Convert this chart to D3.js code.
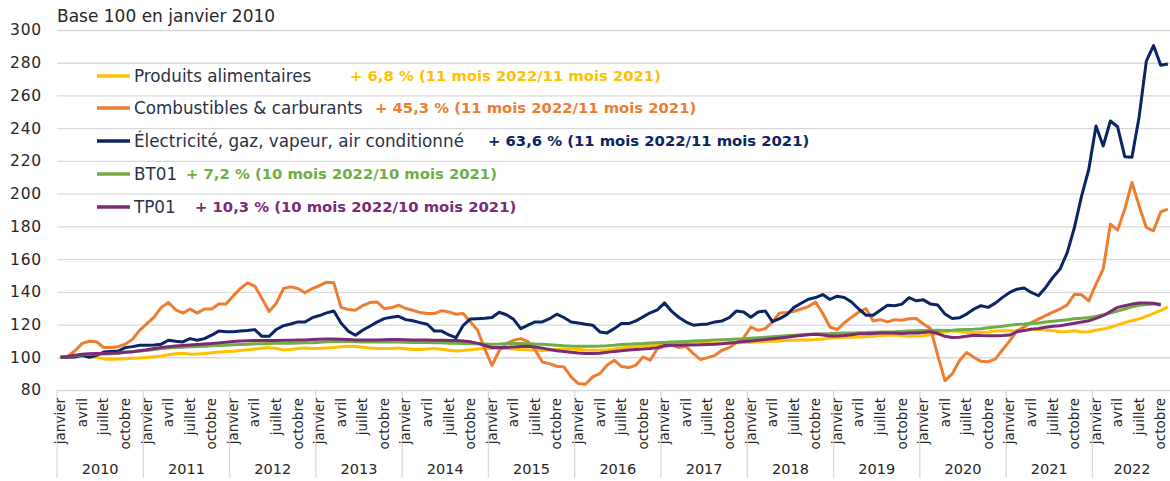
<!DOCTYPE html>
<html>
<head>
<meta charset="utf-8">
<script src="https://cdn.jsdelivr.net/npm/d3@7"></script>
<style>
	body { margin: 0; background: #fff; }
	svg { display: block; font-family: "DejaVu Sans", sans-serif; }
</style>
</head>
<body>
<svg id="chart" width="1170" height="481"></svg>
<script>
// Indices base 100 en janvier 2010, mensuel de janvier 2010 a novembre 2022
const years = ["2010", "2011", "2012", "2013", "2014", "2015", "2016", "2017", "2018", "2019", "2020", "2021", "2022"];
const monthLabels = ["janvier", "avril", "juillet", "octobre"];
const monthTickIdx = [0, 3, 6, 9];
const yTicks = [80, 100, 120, 140, 160, 180, 200, 220, 240, 260, 280, 300];

const seriesNames = [
	"Produits alimentaires",
	"Combustibles & carburants",
	"Électricité, gaz, vapeur, air conditionné",
	"BT01",
	"TP01",
];
const seriesPct = [
	"+ 6,8 % (11 mois 2022/11 mois 2021)",
	"+ 45,3 % (11 mois 2022/11 mois 2021)",
	"+ 63,6 % (11 mois 2022/11 mois 2021)",
	"+ 7,2 % (10 mois 2022/10 mois 2021)",
	"+ 10,3 % (10 mois 2022/10 mois 2021)",
];
const seriesColors = ["#ffc000", "#ed7d31", "#0b2463", "#70ad47", "#7b2a76"];

const food = [
	100, 100.2, 100.4, 100.6, 100.5, 100, 99, 98.8, 98.9, 99.1, 99.4, 99.6,
	99.8, 100.3, 100.8, 101.5, 102.2, 102.4, 101.9, 102, 102.3, 102.8, 103.2, 103.5,
	103.7, 104.1, 104.6, 105, 105.5, 105.9, 105.3, 104.5, 104.7, 105.3, 105.6, 105.4,
	105.3, 105.6, 105.9, 106.4, 106.8, 106.6, 106.1, 105.7, 105.4, 105.3, 105.4, 105.6,
	105.2, 104.8, 104.7, 105, 105.3, 104.9, 104.3, 103.9, 104.2, 104.6, 105.1, 105.3,
	105.4, 105.4, 105.3, 105.1, 104.8, 104.6, 104.4, 104.2, 104.4, 104.7, 105, 105,
	104.8, 104.5, 104.3, 104.3, 104.6, 105, 105.6, 106.2, 106.6, 107, 107.2, 107.4,
	107.6, 107.8, 108, 108.1, 108.3, 108.4, 108.4, 108.4, 108.5, 108.6, 108.8, 109,
	109.2, 109.4, 109.6, 109.8, 110, 110.2, 110.4, 110.5, 110.6, 110.8, 111.2, 111.6,
	112, 112.1, 112.3, 112.4, 112.6, 112.9, 113.3, 113.4, 113.6, 113.2, 112.8, 112.8,
	113.2, 113.8, 114.5, 115.5, 116.2, 115.8, 115.2, 115.2, 115.2, 115.5, 116, 116.2,
	116.2, 116.3, 116.5, 116.8, 117.1, 116.6, 116.2, 115.6, 115.8, 116.2, 115.5, 115.6,
	116.5, 117.3, 118.3, 119.8, 121.2, 122.3, 123.5, 125, 126.8, 128.5, 130.8,
];

const fuel = [
	100, 100.5, 104, 108.5, 109.8, 109.5, 106, 106, 106.5, 108, 111, 116.5,
	120.5, 124.5, 130.5, 133.5, 129, 127, 129.5, 127, 129.5, 129.5, 132.5, 132.5,
	137.5, 142, 145.5, 143.5, 136, 128, 133, 142, 143, 142, 139.5, 142,
	143.7, 145.9, 145.5, 130.5, 129.2, 128.7, 131.5, 133.4, 133.8, 129.8, 130.2, 131.8,
	129.8, 128.7, 127.3, 126.7, 126.7, 128.5, 127.7, 126.3, 126.7, 121.6, 116.5, 105,
	95.1, 104, 108.4, 110.4, 111.4, 109.5, 104.3, 97.1, 96.1, 94.5, 94.1, 88,
	83.9, 83.5, 88, 90, 95.1, 98.2, 94.3, 93.7, 95.1, 100.2, 98.2, 105.3,
	106.6, 107.3, 105.9, 106.6, 102.2, 98.6, 99.8, 101.2, 104.3, 105.9, 109, 112,
	118.5, 116.5, 117.5, 121.5, 127.1, 127.3, 128, 129.5, 131, 133.8, 126.7, 118.5,
	116.9, 121, 124.5, 127.5, 129.8, 122.2, 123, 121.6, 123, 122.6, 123.5, 123.7,
	120.3, 117.5, 101, 85.7, 89.8, 97.9, 103, 100, 97.5, 97.3, 98.9, 104.6,
	110, 116.2, 118.5, 121.2, 123.3, 125.5, 127.6, 129.5, 132, 138.5, 138.2, 134.5,
	144.7, 153.9, 181.3, 177.7, 190.5, 206.8, 192.5, 179.3, 177.3, 188.8, 190.5,
];

const power = [
	100, 100, 100.2, 101.2, 100, 101.2, 103.2, 103.5, 103.8, 105.9, 106.5, 107.3,
	107.3, 107.5, 108, 110.4, 109.8, 109.4, 111.4, 110.4, 111.4, 113.5, 116, 115.6,
	115.6, 116.1, 116.3, 116.9, 112.8, 112.8, 117, 119.3, 120.3, 121.6, 121.5, 124.2,
	125.5, 127.1, 128.3, 121, 116, 113.5, 116.5, 119, 121.5, 123.6, 124.5, 125,
	123, 122.3, 121.2, 120.2, 116, 116, 113.7, 112, 119.5, 123.4, 123.6, 123.8,
	124.3, 127.5, 126, 123.2, 117.5, 119.6, 121.6, 121.6, 123.6, 126.3, 124.3, 121.6,
	121, 120.2, 119.6, 115.5, 114.9, 117.5, 120.6, 120.6, 122.2, 124.7, 127.2, 129,
	133.2, 128, 124.3, 121.5, 119.6, 120, 120.4, 121.6, 122.2, 124.2, 128.3, 127.7,
	124.5, 127.7, 128.3, 121.8, 123.6, 126, 130.5, 133, 135.5, 136.5, 138.3, 135.3,
	137.3, 136.5, 133.8, 129.5, 125.7, 125.7, 128.7, 131.8, 131.5, 132.5, 136.4, 134.5,
	135.1, 132.5, 131.9, 126.4, 123.7, 124.1, 126.4, 129.4, 131.5, 130.5, 133.1, 136.6,
	139.6, 141.6, 142.3, 139.6, 137.6, 142.7, 148.8, 153.9, 164, 179.3, 198.6, 214.9,
	241.3, 229.1, 244.4, 240.9, 222.6, 222.3, 247, 281, 290.5, 278.5, 279.2,
];

const bt01 = [
	100, 100.5, 101, 101.5, 101.8, 102, 102, 102.2, 102.5, 103, 103.4, 103.8,
	104.2, 104.8, 105.3, 105.7, 106, 106.2, 106.4, 106.6, 106.8, 107, 107.2, 107.4,
	107.6, 107.8, 108, 108.2, 108.3, 108.4, 108.5, 108.5, 108.6, 108.7, 108.8, 108.9,
	109.2, 109.5, 109.7, 109.8, 109.6, 109.5, 109.4, 109.4, 109.4, 109.4, 109.3, 109.3,
	109.2, 109.1, 109, 109, 108.9, 108.8, 108.6, 108.5, 108.4, 108.3, 108.2, 108.1,
	108, 108.1, 108.3, 108.4, 108.4, 108.3, 108.1, 108, 107.7, 107.4, 107.1, 106.9,
	106.8, 106.8, 106.8, 106.9, 107.1, 107.4, 107.8, 108, 108.2, 108.4, 108.7, 108.9,
	109.1, 109.3, 109.5, 109.7, 109.9, 110.1, 110.3, 110.5, 110.7, 110.9, 111.1, 111.3,
	111.6, 111.9, 112.2, 112.5, 112.8, 113.1, 113.4, 113.7, 114, 114.2, 114.4, 114.5,
	114.7, 114.8, 114.9, 115, 115.1, 115.3, 115.4, 115.5, 115.6, 115.8, 116, 116.2,
	116.3, 116.4, 116.5, 116.4, 116.5, 116.8, 117, 117.2, 117.5, 118, 118.5, 118.9,
	119.6, 120, 120.3, 120.7, 121, 121.5, 122, 122.5, 123, 123.5, 123.8, 124.3,
	125, 126, 127, 128.2, 129.5, 130.8, 131.8, 132.2, 132.5, 132.5, null,
];

const tp01 = [
	100, 100.5, 101.2, 101.8, 102.2, 102.3, 102.3, 102.4, 102.6, 103, 103.4, 104,
	104.6, 105.3, 106, 106.5, 106.9, 107.2, 107.5, 107.8, 108.1, 108.4, 108.8, 109.2,
	109.6, 109.9, 110.1, 110.2, 110.2, 110.2, 110.3, 110.4, 110.4, 110.5, 110.6, 110.8,
	111, 111.1, 111.1, 111, 110.8, 110.6, 110.5, 110.5, 110.6, 110.7, 110.8, 110.8,
	110.7, 110.6, 110.6, 110.5, 110.4, 110.4, 110.3, 110.2, 110, 109.5, 108.5, 107.2,
	106, 105.9, 106, 106.3, 106.6, 106.8, 106.3, 105.6, 104.8, 104, 103.5, 103,
	102.6, 102.3, 102.3, 102.5, 103, 103.6, 104, 104.4, 104.7, 105, 105.4, 105.9,
	107.2, 107.4, 107.4, 107.5, 107.5, 107.6, 107.8, 108, 108.3, 108.7, 109.1, 109.6,
	110, 110.4, 110.8, 111.3, 111.8, 112.3, 112.8, 113.3, 113.8, 114, 113.6, 113,
	113, 113.3, 113.8, 114.3, 114.4, 114.6, 114.8, 114.9, 114.8, 114.6, 114.8, 114.8,
	115.2, 115.6, 114.5, 112.8, 112.1, 112.2, 112.8, 113.5, 113.3, 113.2, 113.2, 113.3,
	113.6, 115.6, 116.3, 117.2, 117.6, 118.3, 118.9, 119.3, 120, 120.8, 121.6, 122.3,
	123.8, 125.4, 128, 130.5, 131.5, 132.5, 133.1, 133.1, 133, 131.9, null,
];

const seriesValues = [food, fuel, power, bt01, tp01];
const nMonths = food.length;

const series = seriesNames.map((name, k) => ({
	name,
	pct: seriesPct[k],
	color: seriesColors[k],
	values: seriesValues[k],
}));

const width = 1170;
const plotLeft = 57;
const plotRight = 1171.5;
const plotTop = 30;
const plotBottom = 390;
const textColor = "#262626";
const gridColor = "#d9d9d9";

const svg = d3.select("#chart");

const x = d3.scaleLinear()
	.domain([0, nMonths])
	.range([plotLeft, plotRight]);

const y = d3.scaleLinear()
	.domain([80, 300])
	.range([plotBottom, plotTop]);

// Horizontal gridlines
svg.append("g")
	.attr("transform", `translate(${plotLeft},0)`)
	.call(d3.axisLeft(y).tickValues(yTicks).tickSize(-(width - plotLeft)).tickFormat(""))
	.call(g => g.select(".domain").remove())
	.call(g => g.selectAll("line").attr("stroke", gridColor).attr("stroke-width", 1.3));

// Y labels
svg.append("g")
	.attr("transform", "translate(44,0)")
	.call(d3.axisLeft(y).tickValues(yTicks).tickSize(0).tickPadding(2))
	.call(g => g.select(".domain").remove())
	.call(g => g.selectAll("text")
		.attr("fill", textColor)
		.style("font-size", "15.5px")
		.style("letter-spacing", "0.8px")
		.style("font-family", "'DejaVu Sans', sans-serif"));

svg.append("text")
	.attr("x", plotLeft)
	.attr("y", 22)
	.attr("fill", textColor)
	.style("font-size", "17px")
	.text("Base 100 en janvier 2010");

// Year separators, month and year labels
years.forEach((yr, k) => {
	const start = k * 12;
	const end = Math.min(start + 12, nMonths);

	svg.append("line")
		.attr("x1", x(start)).attr("x2", x(start))
		.attr("y1", plotBottom).attr("y2", 478)
		.attr("stroke", gridColor)
		.attr("stroke-width", 1.3);

	monthTickIdx.forEach((m, j) => {
		const idx = start + m;
		if (idx >= nMonths) return;
		const cx = x(idx + 0.5);
		svg.append("text")
			.attr("x", cx)
			.attr("y", 398)
			.attr("dy", "0.35em")
			.attr("transform", `rotate(-90,${cx},398)`)
			.attr("text-anchor", "end")
			.attr("fill", textColor)
			.style("font-size", "13.5px")
			.text(monthLabels[j]);
	});

	svg.append("text")
		.attr("x", (x(start) + x(end)) / 2)
		.attr("y", 474)
		.attr("text-anchor", "middle")
		.attr("fill", textColor)
		.style("font-size", "14.5px")
		.text(yr);
});

// Series lines
const line = d3.line()
	.defined(d => d != null)
	.x((d, i) => x(i + 0.5))
	.y(d => y(d));

series.forEach(s => {
	svg.append("path")
		.datum(s.values)
		.attr("d", line)
		.attr("fill", "none")
		.attr("stroke", s.color)
		.attr("stroke-width", 3)
		.attr("stroke-linejoin", "round");
});

// Legend
const rowY = [76, 108, 141, 174, 207];
const pctX = [350, 375, 488, 186, 195];

series.forEach((s, k) => {
	svg.append("line")
		.attr("x1", 97).attr("x2", 130)
		.attr("y1", rowY[k]).attr("y2", rowY[k])
		.attr("stroke", s.color)
		.attr("stroke-width", 3.5);

	svg.append("text")
		.attr("x", 134)
		.attr("y", rowY[k])
		.attr("dy", "0.35em")
		.attr("fill", "#2a3246")
		.style("font-size", "16.8px")
		.text(s.name);

	svg.append("text")
		.attr("x", pctX[k])
		.attr("y", rowY[k])
		.attr("dy", "0.35em")
		.attr("fill", s.color)
		.style("font-size", "14.8px")
		.style("font-weight", "bold")
		.text(s.pct);
});
</script>
</body>
</html>
